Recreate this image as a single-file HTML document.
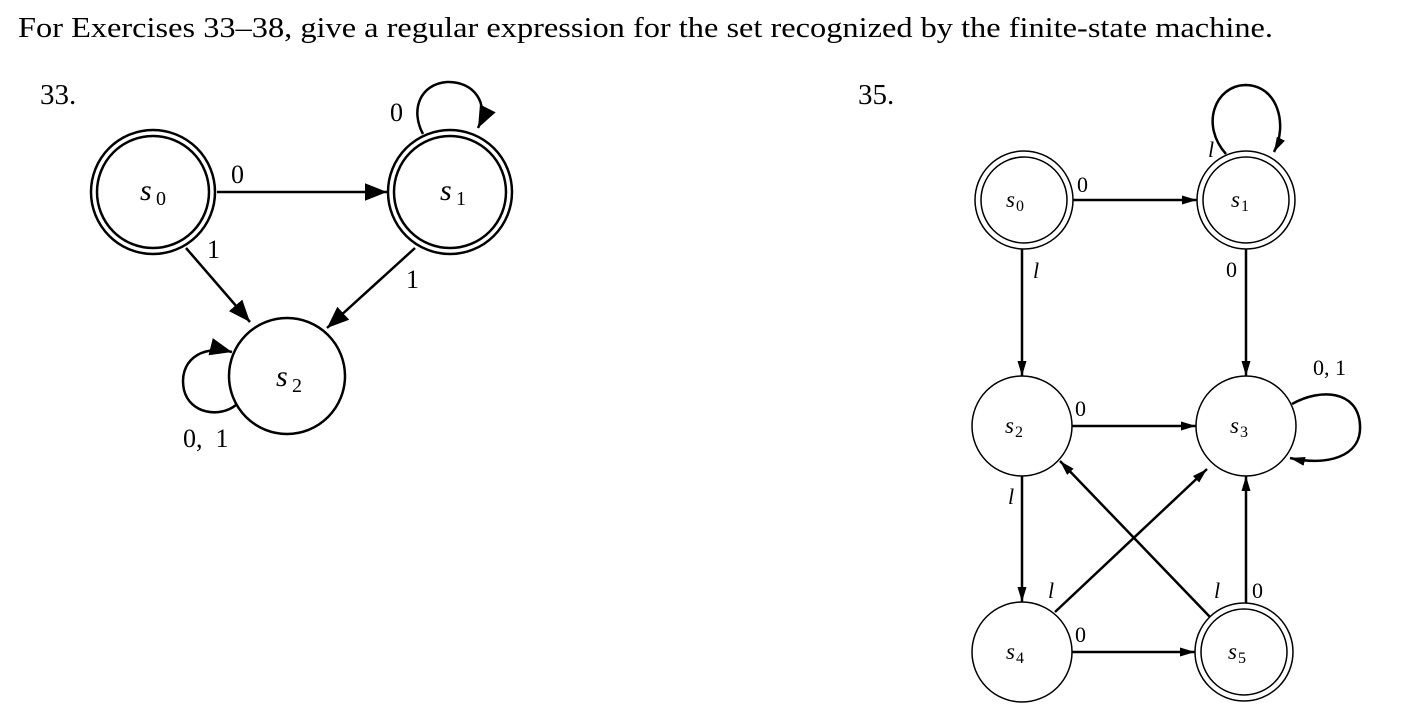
<!DOCTYPE html>
<html><head><meta charset="utf-8"><style>
html,body{margin:0;padding:0;background:#fff;}
svg{display:block;}
text{font-family:"Liberation Serif",serif;fill:#000;}
</style></head><body>
<svg width="1404" height="720" viewBox="0 0 1404 720" xmlns="http://www.w3.org/2000/svg">
<defs>
<marker id="b" viewBox="0 0 10 10" refX="10" refY="5" markerWidth="22" markerHeight="22" markerUnits="userSpaceOnUse" orient="auto"><path d="M0,1 L10,5 L0,9 z" fill="#000"/></marker>
<marker id="c" viewBox="0 0 10 10" refX="10" refY="5" markerWidth="15" markerHeight="15" markerUnits="userSpaceOnUse" orient="auto"><path d="M0,2 L10,5 L0,8 z" fill="#000"/></marker>
</defs>
<text x="18" y="37" font-size="28" textLength="1255" lengthAdjust="spacingAndGlyphs">For Exercises 33–38, give a regular expression for the set recognized by the finite-state machine.</text>
<text x="40" y="104" font-size="29">33.</text>
<text x="858" y="104" font-size="29">35.</text>

<!-- Diagram 33 -->
<g stroke="#000" fill="none" stroke-width="2.5">
<circle cx="153" cy="192" r="62"/><circle cx="153" cy="192" r="56"/>
<circle cx="450" cy="192" r="62"/><circle cx="450" cy="192" r="56"/>
<circle cx="287" cy="376" r="58"/>
<line x1="217" y1="192" x2="387" y2="192" marker-end="url(#b)"/>
<line x1="186" y1="248" x2="250" y2="322" marker-end="url(#b)"/>
<line x1="415" y1="248" x2="327" y2="328" marker-end="url(#b)"/>
<path d="M423,134 C410,110 420,84 447,82 C474,81 490,104 478,128" marker-end="url(#b)"/>
<path d="M236,405 C220,418 190,414 184,390 C178,362 200,344 232,352" marker-end="url(#b)"/>
</g>
<g font-size="26">
<text x="140" y="200" font-style="italic" font-size="30">s</text><text x="156" y="205" font-size="20">0</text>
<text x="440" y="200" font-style="italic" font-size="30">s</text><text x="456" y="205" font-size="20">1</text>
<text x="276" y="386" font-style="italic" font-size="30">s</text><text x="292" y="392" font-size="20">2</text>
<text x="231" y="183">0</text>
<text x="207" y="258">1</text>
<text x="406" y="288">1</text>
<text x="390" y="121">0</text>
<text x="183" y="447">0,&#160;&#160;1</text>
</g>

<!-- Diagram 35 -->
<g stroke="#000" fill="none" stroke-width="1.5">
<circle cx="1024" cy="200" r="49"/><circle cx="1024" cy="200" r="43"/>
<circle cx="1246" cy="200" r="49"/><circle cx="1246" cy="200" r="43"/>
<circle cx="1022" cy="426" r="50"/>
<circle cx="1246" cy="426" r="50"/>
<circle cx="1022" cy="652" r="50"/>
<circle cx="1244" cy="652" r="49"/><circle cx="1244" cy="652" r="43"/>
</g>
<g stroke="#000" fill="none" stroke-width="2.5">
<line x1="1073" y1="200" x2="1197" y2="200" marker-end="url(#c)"/>
<line x1="1022" y1="249" x2="1022" y2="376" marker-end="url(#c)"/>
<line x1="1246" y1="249" x2="1246" y2="376" marker-end="url(#c)"/>
<line x1="1072" y1="426" x2="1196" y2="426" marker-end="url(#c)"/>
<line x1="1022" y1="476" x2="1022" y2="602" marker-end="url(#c)"/>
<line x1="1072" y1="652" x2="1195" y2="652" marker-end="url(#c)"/>
<line x1="1246" y1="603" x2="1246" y2="476" marker-end="url(#c)"/>
<line x1="1055" y1="612" x2="1207" y2="469" marker-end="url(#c)"/>
<line x1="1210" y1="617" x2="1060" y2="461" marker-end="url(#c)"/>
<path d="M1226,154 C1200,125 1215,86 1245,85 C1278,85 1288,125 1274,152" marker-end="url(#c)"/>
<path d="M1292,404 C1320,388 1358,390 1360,425 C1362,458 1325,466 1290,458" marker-end="url(#c)"/>
</g>
<g font-size="22">
<text x="1006" y="207" font-style="italic" font-size="23">s</text><text x="1016" y="211" font-size="16">0</text>
<text x="1231" y="207" font-style="italic" font-size="23">s</text><text x="1241" y="211" font-size="16">1</text>
<text x="1005" y="433" font-style="italic" font-size="23">s</text><text x="1015" y="437" font-size="16">2</text>
<text x="1230" y="433" font-style="italic" font-size="23">s</text><text x="1240" y="437" font-size="16">3</text>
<text x="1006" y="659" font-style="italic" font-size="23">s</text><text x="1016" y="663" font-size="16">4</text>
<text x="1228" y="659" font-style="italic" font-size="23">s</text><text x="1238" y="663" font-size="16">5</text>
<text x="1077" y="192">0</text>
<text x="1033" y="278" font-style="italic">l</text>
<text x="1226" y="277">0</text>
<text x="1208" y="157" font-style="italic">l</text>
<text x="1313" y="375">0,&#160;1</text>
<text x="1075" y="416">0</text>
<text x="1008" y="504" font-style="italic">l</text>
<text x="1048" y="598" font-style="italic">l</text>
<text x="1214" y="598" font-style="italic">l</text>
<text x="1252" y="598">0</text>
<text x="1075" y="642">0</text>
</g>
</svg>
</body></html>
